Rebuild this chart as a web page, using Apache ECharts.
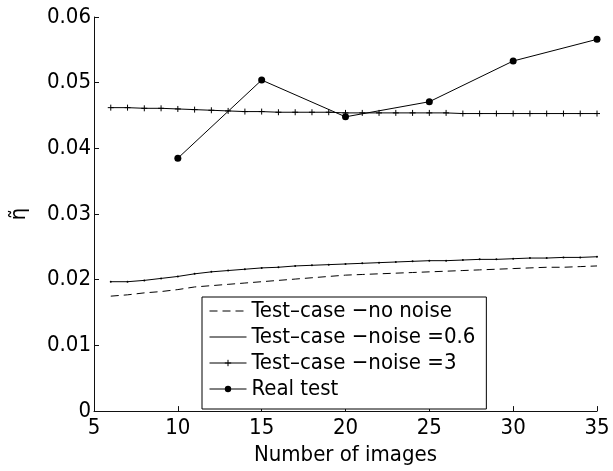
<!DOCTYPE html>
<html>
<head>
<meta charset="utf-8">
<script src="https://cdn.jsdelivr.net/npm/echarts@6/dist/echarts.min.js"></script>
<style>
  html, body { margin: 0; padding: 0; background: #fff; }
  #chart { width: 613px; height: 471px; }
</style>
</head>
<body>
<div id="chart"></div>
<script>
// image counts used for the simulated test cases
const imageCounts = [
  6, 7, 8, 9, 10, 11, 12, 13, 14, 15, 16, 17, 18, 19, 20,
  21, 22, 23, 24, 25, 26, 27, 28, 29, 30, 31, 32, 33, 34, 35
];
const noNoise = [
  0.0175, 0.0177, 0.0180, 0.0182, 0.0185, 0.0189, 0.0191, 0.0193, 0.0195, 0.0197,
  0.0199, 0.0201, 0.0203, 0.0205, 0.0207, 0.0208, 0.0209, 0.0210, 0.0211, 0.0212,
  0.0213, 0.0214, 0.0215, 0.0216, 0.0217, 0.0218, 0.0219, 0.0219, 0.0220, 0.0221
];
const noise06 = [
  0.0197, 0.0197, 0.0199, 0.0202, 0.0205, 0.0209, 0.0212, 0.0214, 0.0216, 0.0218,
  0.0219, 0.0221, 0.0222, 0.0223, 0.0224, 0.0225, 0.0226, 0.0227, 0.0228, 0.0229,
  0.0229, 0.0230, 0.0231, 0.0231, 0.0232, 0.0233, 0.0233, 0.0234, 0.0234, 0.0235
];
const noise3 = [
  0.0462, 0.0462, 0.0461, 0.0461, 0.0460, 0.0459, 0.0458, 0.0457, 0.0456, 0.0456,
  0.0455, 0.0455, 0.0455, 0.0455, 0.0454, 0.0454, 0.0454, 0.0454, 0.0454, 0.0454,
  0.0454, 0.0453, 0.0453, 0.0453, 0.0453, 0.0453, 0.0453, 0.0453, 0.0453, 0.0453
];
// real experiment
const realCounts = [10, 15, 20, 25, 30, 35];
const realTest = [0.0385, 0.0504, 0.0448, 0.0471, 0.0533, 0.0566];

const seriesNames = [
  'Test\u2013case \u2212no noise',
  'Test\u2013case \u2212noise =0.6',
  'Test\u2013case \u2212noise =3',
  'Real test'
];

const pairs = (xs, ys) => xs.map((x, i) => [x, ys[i]]);

const font = '"DejaVu Sans Condensed", "DejaVu Sans"';
const fs = 22;
const plus = 'path://M0,5L10,5M5,0L5,10';

const chart = echarts.init(document.getElementById('chart'));
chart.setOption({
  animation: false,
  textStyle: { fontFamily: font },
  grid: { left: 94, right: 16, top: 17, bottom: 57 },
  legend: {
    orient: 'vertical',
    left: 202,
    top: 297,
    padding: [3, 11, 9, 7],
    itemGap: 4,
    itemWidth: 37,
    itemHeight: 8,
    borderColor: '#000',
    borderWidth: 1,
    backgroundColor: '#fff',
    lineStyle: { width: 1 },
    textStyle: { fontSize: fs, color: '#000', fontFamily: font },
    data: [
      { name: seriesNames[0], itemStyle: { opacity: 0 } },
      { name: seriesNames[1], itemStyle: { opacity: 0 } },
      { name: seriesNames[2], itemStyle: { borderWidth: 1 } },
      { name: seriesNames[3], itemStyle: { borderWidth: 0 } }
    ]
  },
  xAxis: {
    type: 'value',
    min: 5,
    max: 35,
    interval: 5,
    name: 'Number of images',
    nameLocation: 'middle',
    nameGap: 23,
    nameTextStyle: { fontSize: fs, color: '#000', fontFamily: font },
    axisLine: { lineStyle: { color: '#111', width: 1 } },
    axisTick: { inside: true, length: 5, lineStyle: { color: '#111' } },
    axisLabel: { fontSize: fs, color: '#000', margin: 6, fontFamily: font },
    splitLine: { show: false }
  },
  yAxis: {
    type: 'value',
    min: 0,
    max: 0.06,
    interval: 0.01,
    name: '\u03b7\u0303',
    nameLocation: 'middle',
    nameRotate: 90,
    nameGap: 64,
    nameTextStyle: { fontSize: fs, color: '#000', fontFamily: font },
    axisLine: { show: true, lineStyle: { color: '#111', width: 1 } },
    axisTick: { show: true, inside: true, length: 5, lineStyle: { color: '#111' } },
    axisLabel: { fontSize: fs, color: '#000', margin: 3, fontFamily: font },
    splitLine: { show: false }
  },
  series: [
    {
      name: seriesNames[0],
      type: 'line',
      data: pairs(imageCounts, noNoise),
      showSymbol: false,
      symbol: 'none',
      lineStyle: { color: '#000', width: 1, type: [8, 5] },
      itemStyle: { color: '#000' }
    },
    {
      name: seriesNames[1],
      type: 'line',
      data: pairs(imageCounts, noise06),
      symbol: 'circle',
      symbolSize: 2,
      lineStyle: { color: '#000', width: 1 },
      itemStyle: { color: '#000' }
    },
    {
      name: seriesNames[2],
      type: 'line',
      data: pairs(imageCounts, noise3),
      symbol: plus,
      symbolSize: 6,
      lineStyle: { color: '#000', width: 1 },
      itemStyle: { color: '#000', borderColor: '#000', borderWidth: 1 }
    },
    {
      name: seriesNames[3],
      type: 'line',
      data: pairs(realCounts, realTest),
      symbol: 'circle',
      symbolSize: 7,
      lineStyle: { color: '#000', width: 1 },
      itemStyle: { color: '#000' }
    }
  ]
});
</script>
</body>
</html>
